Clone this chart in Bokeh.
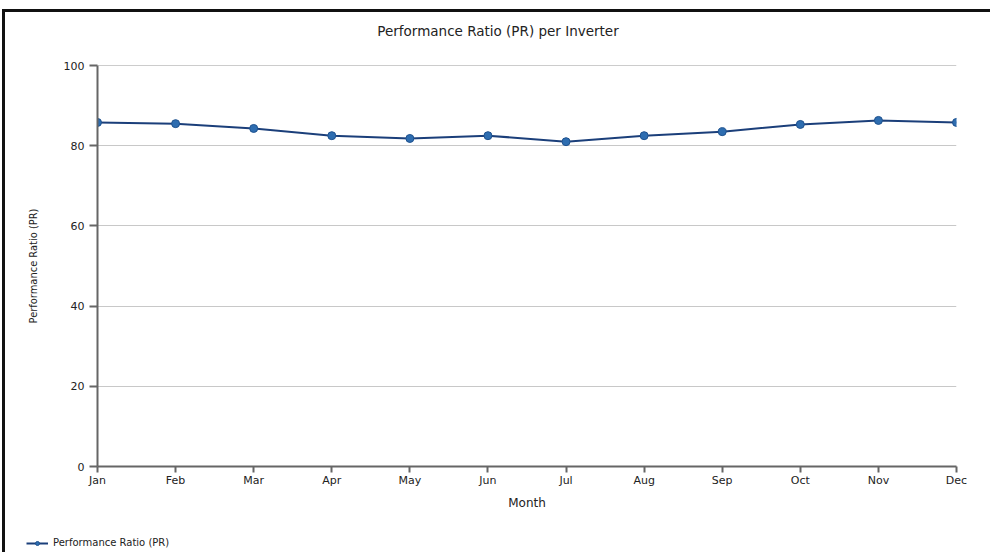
from bokeh.plotting import figure
from bokeh.layouts import column
from bokeh.models import Range1d, FixedTicker, Legend, LegendItem, Span, Label
from bokeh.embed import file_html
from bokeh.resources import INLINE

months = ["Jan", "Feb", "Mar", "Apr", "May", "Jun", "Jul", "Aug", "Sep", "Oct", "Nov", "Dec"]
pr_values = [85.8, 85.5, 84.3, 82.5, 81.8, 82.5, 81.0, 82.5, 83.5, 85.3, 86.3, 85.8]
y_ticks = [0, 20, 40, 60, 80, 100]
title_text = "Performance Ratio (PR) per Inverter"
series_name = "Performance Ratio (PR)"

x = list(range(len(months)))

LINE_COLOR = "#1b3f7a"
DOT_FILL = "#2e6db0"
DOT_LINE = "#1f528f"
W = 985


def strip(height):
    f = figure(width=W, height=height, output_backend="svg", toolbar_location=None,
               x_range=Range1d(0, 1), y_range=Range1d(0, 1),
               x_axis_location=None, y_axis_location=None,
               min_border_left=0, min_border_right=0, min_border_top=0, min_border_bottom=0)
    if "frame_align" in f.properties():
        f.frame_align = False
    f.grid.visible = False
    f.outline_line_color = None
    f.border_fill_color = "white"
    f.background_fill_color = "white"
    return f


# title strip
t = strip(40)
t.add_layout(Label(x=0.5, y=0.55, text=title_text, text_align="center", text_baseline="middle",
                   text_font="DejaVu Sans", text_font_size="13.5px", text_color="#222"))

# main chart
p = figure(width=W, height=476, output_backend="svg", toolbar_location=None,
           x_range=Range1d(0, len(months) - 1), y_range=Range1d(0, 100),
           min_border_left=92, min_border_right=34, min_border_top=13, min_border_bottom=62)
if "frame_align" in p.properties():
    p.frame_align = False
p.outline_line_color = None
p.background_fill_color = "white"
p.border_fill_color = "white"

p.xgrid.grid_line_color = None
p.ygrid.grid_line_color = "#c8c8c8"
p.ygrid.ticker = FixedTicker(ticks=y_ticks)
p.add_layout(Span(location=100, dimension="width", line_color="#9a9a9a", line_width=1))

p.xaxis.ticker = FixedTicker(ticks=x)
p.xaxis.major_label_overrides = {i: m for i, m in enumerate(months)}
p.yaxis.ticker = FixedTicker(ticks=y_ticks)

for ax in (p.xaxis[0], p.yaxis[0]):
    ax.axis_line_color = "#666"
    ax.axis_line_width = 2
    ax.major_tick_line_color = "#666"
    ax.major_tick_line_width = 2
    ax.major_tick_in = 0
    ax.minor_tick_line_color = None
    ax.major_label_text_font = "DejaVu Sans"
    ax.major_label_text_font_size = "11px"
    ax.major_label_text_color = "#222"
    ax.axis_label_text_font_style = "normal"
    ax.axis_label_text_color = "#222"

p.xaxis.major_tick_out = 6
p.yaxis.major_tick_out = 8

p.xaxis.axis_label = "Month"
p.xaxis.axis_label_text_font = "DejaVu Sans"
p.xaxis.axis_label_text_font_size = "12px"
p.xaxis.major_label_standoff = 1
p.xaxis.axis_label_standoff = 6

p.yaxis.axis_label = series_name
p.yaxis.axis_label_text_font = "DejaVu Sans Condensed, Liberation Sans Narrow, Liberation Sans"
p.yaxis.axis_label_text_font_size = "11px"
p.yaxis.major_label_standoff = 5
p.yaxis.axis_label_standoff = 21

p.line(x, pr_values, line_color=LINE_COLOR, line_width=2)
p.scatter(x, pr_values, size=8, fill_color=DOT_FILL, line_color=DOT_LINE, line_width=1)

# legend strip (its own glyphs fall outside its 0..1 y range, only the legend shows)
q = strip(24)
lg_line = q.line(x, pr_values, line_color=LINE_COLOR, line_width=2)
lg_dot = q.scatter(x, pr_values, size=6, fill_color=DOT_FILL, line_color=DOT_LINE)
legend = Legend(items=[LegendItem(label=series_name, renderers=[lg_line, lg_dot])],
                location=(21, 4), orientation="horizontal",
                label_text_font="DejaVu Sans", label_text_font_size="10px",
                label_text_color="#222", glyph_width=22, glyph_height=10,
                border_line_color=None, background_fill_alpha=0, padding=2, spacing=0,
                label_standoff=5, margin=0)
q.add_layout(legend, "center")

layout = column(t, p, q, spacing=0)
layout.styles = {"border-top": "3px solid #111", "border-left": "3px solid #111",
                 "margin-top": "9px", "margin-left": "2px"}

open("out.html", "w").write(file_html(layout, INLINE))
